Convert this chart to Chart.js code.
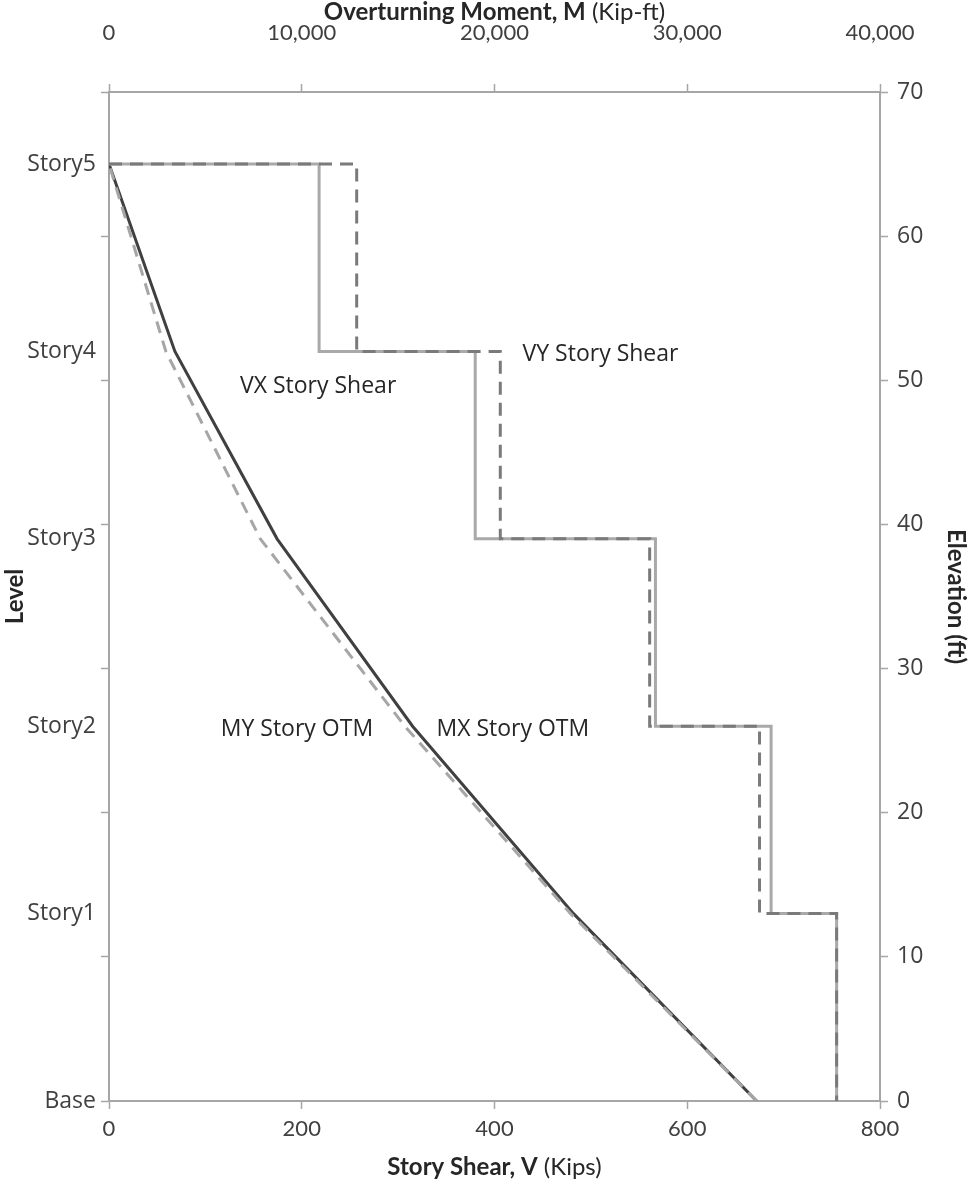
<!DOCTYPE html>
<html lang="en">
<head>
<meta charset="UTF-8">
<title>Story Shear and Overturning Moment</title>
<script src="https://cdn.jsdelivr.net/npm/chart.js@4.4.1/dist/chart.umd.min.js"></script>
<style>
  html, body { margin: 0; padding: 0; background: #fff; }
  #wrap { width: 971px; height: 1190px; }
</style>
</head>
<body>
<div id="wrap"><canvas id="cvs" width="971" height="1190"></canvas></div>
<script>
// levels and elevations (ft)
const levelNames = ['Base', 'Story1', 'Story2', 'Story3', 'Story4', 'Story5'];
const elevations = [0, 13, 26, 39, 52, 65];
const elevTicks = [0, 10, 20, 30, 40, 50, 60, 70];

// story shear (kips), Story1..Story5
const vxShear = [755, 687, 567, 380, 218];
const vyShear = [755, 675, 561, 406, 257];

// overturning moment (kip-ft), Base..Story5
const mxOtm = [33600, 24100, 15750, 8720, 3420, 0];
const myOtm = [33600, 23950, 15350, 7850, 2950, 0];

const shearTicks = [0, 200, 400, 600, 800];
const momentTicks = [0, 10000, 20000, 30000, 40000];

const axisColor = '#a6a6a6';
const textColor = '#404040';
const titleColor = '#262626';

// step line: horizontal at top of story, vertical down to the floor below
function stepPoints(shear) {
  const pts = [{ x: 0, y: elevations[elevations.length - 1] }];
  for (let i = shear.length - 1; i >= 0; i--) {
    pts.push({ x: shear[i], y: elevations[i + 1] });
    pts.push({ x: shear[i], y: elevations[i] });
  }
  return pts;
}
const otmPoints = m => m.map((v, i) => ({ x: v, y: elevations[i] }));

// text labels placed on the plot, in data units
const notes = [
  { text: 'VX Story Shear', xAxis: 'x', x: 217, y: 49.6 },
  { text: 'VY Story Shear', xAxis: 'x', x: 510, y: 51.8 },
  { text: 'MY Story OTM', xAxis: 'x2', x: 9750, y: 25.8 },
  { text: 'MX Story OTM', xAxis: 'x2', x: 20950, y: 25.8 }
];

const notesPlugin = {
  id: 'notes',
  afterDatasetsDraw(chart) {
    const ctx = chart.ctx, ys = chart.scales.y;
    ctx.save();
    ctx.font = '23px "Open Sans"';
    ctx.fillStyle = titleColor;
    ctx.textAlign = 'center';
    ctx.textBaseline = 'middle';
    notes.forEach(n => {
      ctx.fillText(n.text, chart.scales[n.xAxis].getPixelForValue(n.x), ys.getPixelForValue(n.y));
    });
    ctx.restore();
  }
};

// axis titles with a bold part and a normal part
function mixedTitle(ctx, parts, cx, cy) {
  const fonts = parts.map(p => (p.bold ? 'bold ' : '') + '24px Lato');
  let total = 0;
  const widths = parts.map((p, i) => { ctx.font = fonts[i]; const w = ctx.measureText(p.text).width; total += w; return w; });
  let x = cx - total / 2;
  parts.forEach((p, i) => {
    ctx.font = fonts[i];
    ctx.fillText(p.text, x, cy);
    x += widths[i];
  });
}
const titlesPlugin = {
  id: 'titles',
  afterDraw(chart) {
    const ctx = chart.ctx, a = chart.chartArea;
    const cx = (a.left + a.right) / 2;
    ctx.save();
    ctx.fillStyle = titleColor;
    ctx.textAlign = 'left';
    ctx.textBaseline = 'middle';
    mixedTitle(ctx, [{ text: 'Overturning Moment, M', bold: true }, { text: ' (Kip-ft)', bold: false }], cx, a.top - 80);
    mixedTitle(ctx, [{ text: 'Story Shear, V', bold: true }, { text: ' (Kips)', bold: false }], cx, a.bottom + 66);
    ctx.restore();
  }
};

const tickFont = { family: 'Lato', size: 22 };
const levelFont = { family: '"Open Sans"', size: 23 };
const titleFont = { family: 'Lato', size: 24, weight: 'bold' };

new Chart(document.getElementById('cvs'), {
  type: 'line',
  data: {
    datasets: [
      { label: 'VY Story Shear', data: stepPoints(vyShear), xAxisID: 'x', yAxisID: 'y',
        borderColor: '#7a7a7a', borderWidth: 3, borderDash: [13, 8] },
      { label: 'MY Story OTM', data: otmPoints(myOtm), xAxisID: 'x2', yAxisID: 'y',
        borderColor: '#a6a6a6', borderWidth: 3, borderDash: [12, 8] },
      { label: 'VX Story Shear', data: stepPoints(vxShear), xAxisID: 'x', yAxisID: 'y',
        borderColor: '#a9a9a9', borderWidth: 3 },
      { label: 'MX Story OTM', data: otmPoints(mxOtm), xAxisID: 'x2', yAxisID: 'y',
        borderColor: '#404040', borderWidth: 3 }
    ]
  },
  options: {
    responsive: false,
    devicePixelRatio: 1,
    animation: false,
    layout: { padding: 0 },
    elements: { point: { radius: 0 }, line: { tension: 0, fill: false } },
    plugins: { legend: { display: false }, tooltip: { enabled: false } },
    scales: {
      x: {
        type: 'linear', position: 'bottom', min: 0, max: 800,
        afterBuildTicks: s => { s.ticks = shearTicks.map(v => ({ value: v })); },
        afterFit: s => { s.height = 89; },
        grid: { drawOnChartArea: false, tickLength: 8, color: axisColor, tickWidth: 1.5 },
        border: { display: true, color: axisColor, width: 2 },
        ticks: { font: tickFont, color: textColor, padding: 7, maxRotation: 0 }
      },
      x2: {
        type: 'linear', position: 'top', min: 0, max: 40000,
        afterBuildTicks: s => { s.ticks = momentTicks.map(v => ({ value: v })); },
        afterFit: s => { s.height = 92; },
        grid: { drawOnChartArea: false, tickLength: 8, color: axisColor, tickWidth: 1.5 },
        border: { display: true, color: axisColor, width: 2 },
        ticks: { font: tickFont, color: textColor, padding: 38, maxRotation: 0,
          callback: v => v.toLocaleString('en-US') }
      },
      y: {
        type: 'linear', position: 'left', min: 0, max: 70,
        afterBuildTicks: s => {
          const vals = [...new Set([...elevTicks, ...elevations])].sort((a, b) => a - b);
          s.ticks = vals.map(v => ({ value: v }));
        },
        afterFit: s => { s.width = 109; },
        grid: { drawOnChartArea: false, tickLength: 8, tickWidth: 1.5,
          tickColor: c => (c.tick && c.tick.value % 10 === 0 ? axisColor : 'rgba(0,0,0,0)') },
        border: { display: true, color: axisColor, width: 2 },
        ticks: { font: levelFont, color: textColor, padding: 5, autoSkip: false,
          callback: v => { const i = elevations.indexOf(v); return i >= 0 ? levelNames[i] : ''; } },
        title: { display: true, text: 'Level', color: titleColor, font: titleFont, padding: 1 }
      },
      y2: {
        type: 'linear', position: 'right', min: 0, max: 70,
        afterBuildTicks: s => { s.ticks = elevTicks.map(v => ({ value: v })); },
        afterFit: s => { s.width = 91; },
        grid: { drawOnChartArea: false, tickLength: 8, color: axisColor, tickWidth: 1.5 },
        border: { display: true, color: axisColor, width: 2 },
        ticks: { font: levelFont, color: textColor, padding: 9 },
        title: { display: true, text: 'Elevation (ft)', color: titleColor, font: titleFont, padding: 1 }
      }
    }
  },
  plugins: [notesPlugin, titlesPlugin]
});
</script>
</body>
</html>
